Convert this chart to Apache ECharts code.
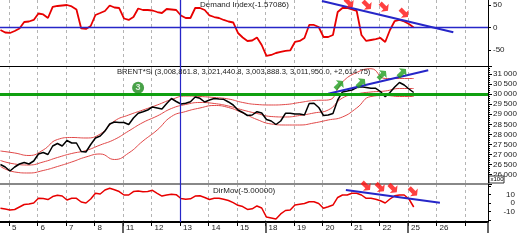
<!DOCTYPE html>
<html><head><meta charset="utf-8">
<script src="https://cdn.jsdelivr.net/npm/echarts@6/dist/echarts.min.js"></script>
<style>html,body{margin:0;padding:0;background:#fff}#c{width:520px;height:243px}</style>
</head><body><div id="c"></div>
<script>
const DATES = ['5','6','7','8','11','12','13','14','15','18','19','20','21','22','25','26'];
const T0 = -0.3;          // first intraday sample (trading-day index)
const STEP = 1/6;         // intraday sample step
const BAND_STEP = 1/2;    // envelope sample step
const demandIndex = [-5.6,-11.1,-12.2,-7.8,-2.2,12.2,13.3,16.7,31.1,28.9,
 21.1,45.6,47.8,48.9,50,46.7,40,-2.2,-3.3,3.3,
 27.8,32.2,36.7,48.9,44.4,43.3,20,16.7,23.3,42.2,
 38.9,38.9,37.8,34.4,32.2,41.1,40,38.9,26.7,21.1,
 21.1,43.3,43.3,38.9,26.7,23.3,21.1,16.7,13.3,11.1,
 -12.2,-22.2,-30,-28.9,-22.2,-38.9,-63.3,-61.1,-56.7,-54.4,
 -52.2,-51.1,-32.2,-30,-23.3,5.6,5.6,1.1,-21.1,-21.1,
 -16.7,34.4,43.3,43.3,40,36.7,-16.7,-30,-27.8,-25.6,
 -23.3,-32.2,-5.6,14.4,16.7,13.3,7.8,0];
const price = [26498,26374,26174,26374,26523,26598,26523,26672,27021,27096,
 26996,27419,27544,27419,27693,27569,27569,27145,27121,27494,
 27818,27917,28166,28515,28615,28590,28590,28490,28814,29048,
 29127,29212,29362,29312,29262,29536,29785,29635,29511,29546,
 29625,29860,29795,29611,29710,29785,29760,29745,29611,29461,
 29212,29088,28938,28963,29127,29063,28739,28664,28490,28664,
 29048,29048,29013,29013,28963,29536,29546,29337,28938,28963,
 29038,29710,30109,30158,30208,30333,30372,30333,30293,30293,
 30133,29874,30084,30358,30582,30457,30258,30084];
const bandUpper = [27170,27071,26946,27220,27743,27843,27818,28017,28664,28963,29212,29461,29735,29909,29884,29835,29760,29586,29486,29461,29486,29586,29685,29710,30607,31080,31269,30781,30781,30781];
const bandMid = [26697,26523,26473,26623,26847,27046,27195,27469,27743,28166,28590,28913,29287,29486,29586,29536,29411,29212,29038,28888,28864,28938,29063,29212,29810,30009,30109,30158,30283,30283];
const bandLower = [26398,26125,26075,26199,26398,26623,26872,27021,26747,27071,27668,28216,28888,29137,29312,29436,29337,29063,28739,28515,28465,28465,28565,28714,28864,29312,29884,29934,29884,29884];
const dirMov = [-6.2,-7.1,-8.2,-7.6,-4.7,-1.8,-1.2,0,5.5,5.3,
 4.1,7.6,9.1,8.2,3.5,5.5,5.5,1.2,0,4.7,
 11.4,10.6,15.3,17.3,15.6,13.5,9.4,9.4,13.5,14.1,
 13.3,13.5,14.9,11.4,8.2,9.4,10.4,9.8,5.3,4.5,
 4.9,8.2,8.5,6.5,4.1,5.5,5.5,4.5,2.9,0.4,
 -2.7,-4.2,-7.6,-6.8,-3.5,-5.9,-16.5,-17.6,-18.8,-12.9,
 -8.8,-8.2,-2.4,-1.5,-0.6,1.5,1.5,-0.6,-6.2,-4.4,
 -2.4,6.5,9.4,9.4,11.4,11.4,9.4,5.5,5.5,4.5,
 2.6,0,4.7,8.5,9.4,9.4,4.7,-4.7];
const diTrend = [[10.98,58.9],[15.59,-10.7]];
const priceTrend = [[11.2,30024],[14.71,31189]];
const dmTrend = [[11.82,15.3],[15.12,0.4]];
const diArrows = [[11.93,54.4],[12.56,50],[13.16,45.6],[13.86,32.2]];
const priceArrows = [[11.58,30457],[12.35,30557],[13.09,30955],[13.79,31055]];
const dmArrows = [[12.53,20],[13.02,18.5],[13.47,17.3],[14.18,13.3]];
const signalMark = [[4.53,30323]];
const LEVEL = 30000;
const DI_ZERO = 0;
const CURSOR_DAY = 6;
const X_MIN = -1, X_MAX = 16.807;
const TITLE_DI = 'Demand Index(-1.57086)';
const TITLE_PRICE = 'BRENT*Si (3,008,861.8, 3,021,440.8, 3,003,888.3, 3,011,950.0, +2,614.75)';
const TITLE_DM = 'DirMov(-5.00000)';

const FONT = 'Liberation Sans, Arial, sans-serif';
const pairs = (arr, t0, step) => arr.map((v, i) => [t0 + i * step, v]);
const ARROW = 'path://M0,3 L6,3 L6,0 L10,5 L6,10 L6,7 L0,7 Z';
const BLUE = '#2626c8';

const xBase = (gi, bottom) => ({
  type: 'value', gridIndex: gi, min: X_MIN, max: X_MAX, interval: 1,
  axisLine: {show: true, onZero: false,
    lineStyle: bottom ? {color: '#000', width: 2} : (gi === 0 ? {color: '#000', width: 1} : {color: '#888', width: 2})},
  axisTick: {show: bottom, length: 4, lineStyle: {color: '#000'}},
  axisLabel: {show: bottom, fontSize: 8, fontFamily: FONT, color: '#222', align: 'left', margin: 2, padding: [0,0,0,3],
    showMaxLabel: false, formatter: v => (DATES[v] !== undefined ? DATES[v] : '')},
  splitLine: {show: true, lineStyle: {color: '#b4b4b4', type: [3, 3], width: 1}}
});
const weekAxis = {
  type: 'value', gridIndex: 2, min: X_MIN, max: X_MAX, interval: 5, position: 'bottom',
  axisLine: {show: false, onZero: false}, axisLabel: {show: false}, splitLine: {show: false},
  axisTick: {show: true, length: 11, lineStyle: {color: '#333', width: 1.5}}
};
const yLabel = {fontSize: 8, fontFamily: FONT, color: '#222', showMinLabel: false, showMaxLabel: false};

const cursor = () => ({symbol: 'none', silent: true, label: {show: false}, animation: false,
  lineStyle: {color: BLUE, width: 1.2, type: 'solid'}, data: [{xAxis: CURSOR_DAY}]});
const gridBase = {left: -19.5, width: 507.5, outerBoundsMode: 'none', containLabel: false};

const option = {
  animation: false,
  title: [
    {text: TITLE_DI, left: 200, top: 1, padding: 0, textStyle: {fontSize: 8, fontWeight: 'normal', color: '#222', fontFamily: FONT}},
    {text: TITLE_PRICE, left: 117, top: 68, padding: 0, textStyle: {fontSize: 7.6, fontWeight: 'normal', color: '#222', fontFamily: FONT}},
    {text: TITLE_DM, left: 213, top: 187, padding: 0, textStyle: {fontSize: 8, fontWeight: 'normal', color: '#222', fontFamily: FONT}}
  ],
  grid: [
    Object.assign({top: 0, height: 66}, gridBase),
    Object.assign({top: 66, height: 118}, gridBase),
    Object.assign({top: 184, height: 38}, gridBase)
  ],
  xAxis: [xBase(0, false), xBase(1, false), xBase(2, true), weekAxis],
  yAxis: [
    {type: 'value', gridIndex: 0, position: 'right', min: -85.6, max: 61.1, minInterval: 50, maxInterval: 50,
     axisLine: {show: true, onZero: false, lineStyle: {color: '#000'}}, axisTick: {show: true, length: 3, lineStyle: {color: '#000'}},
     axisLabel: Object.assign({}, yLabel, {margin: 5}), splitLine: {show: false}},
    {type: 'value', gridIndex: 1, position: 'right', min: 25527, max: 31403, minInterval: 500, maxInterval: 500,
     axisLine: {show: true, onZero: false, lineStyle: {color: '#000'}}, axisTick: {show: true, length: 4, lineStyle: {color: '#000'}},
     minorTick: {show: true, splitNumber: 5, length: 2, lineStyle: {color: '#000'}},
     axisLabel: Object.assign({}, yLabel, {margin: 5, formatter: v => String(Math.floor(v/1000)) + '\u2009' + String(v % 1000).padStart(3, '0')}),
     splitLine: {show: false}},
    {type: 'value', gridIndex: 2, position: 'right', min: -22.35, max: 22.35, minInterval: 10, maxInterval: 10,
     axisLine: {show: true, onZero: false, lineStyle: {color: '#000'}}, axisTick: {show: true, length: 3, lineStyle: {color: '#000'}},
     axisLabel: Object.assign({}, yLabel, {margin: 27, align: 'right', formatter: v => (Math.abs(v) < 15 ? String(v) : '')}),
     splitLine: {show: false}}
  ],
  graphic: [
    {type: 'rect', shape: {x: 489, y: 176, width: 15, height: 7}, style: {fill: '#fff', stroke: '#000', lineWidth: 0.8}, z: 100},
    {type: 'text', x: 490.5, y: 176.5, style: {text: 'x100', font: '6px ' + FONT, fill: '#000'}, z: 101}
  ],
  series: [
    {type: 'line', xAxisIndex: 0, yAxisIndex: 0, data: pairs(demandIndex, T0, STEP), showSymbol: false,
     lineStyle: {color: '#e80000', width: 1.8}, z: 3,
     markLine: {symbol: 'none', silent: true, label: {show: false}, lineStyle: {color: BLUE, width: 1.3, type: 'solid'},
       data: [{xAxis: CURSOR_DAY}, [{coord: [X_MIN, DI_ZERO]}, {coord: [X_MAX, DI_ZERO]}]]}},
    {type: 'line', xAxisIndex: 0, yAxisIndex: 0, data: diTrend, showSymbol: false, lineStyle: {color: BLUE, width: 2}, z: 4},
    {type: 'scatter', xAxisIndex: 0, yAxisIndex: 0, data: diArrows, symbol: ARROW, symbolSize: 11, symbolRotate: -45,
     itemStyle: {color: '#ff1010'}, z: 5},

    {type: 'line', xAxisIndex: 1, yAxisIndex: 1, data: pairs(bandUpper, T0, BAND_STEP), showSymbol: false, smooth: true,
     lineStyle: {color: '#e04848', width: 1}, z: 2,
     markLine: {symbol: 'none', silent: true, label: {show: false}, lineStyle: {color: '#10a010', width: 3, type: 'solid'},
       data: [{yAxis: LEVEL}]}},
    {type: 'line', xAxisIndex: 1, yAxisIndex: 1, data: pairs(bandMid, T0, BAND_STEP), showSymbol: false, smooth: true,
     lineStyle: {color: '#e04848', width: 1}, z: 2},
    {type: 'line', xAxisIndex: 1, yAxisIndex: 1, data: pairs(bandLower, T0, BAND_STEP), showSymbol: false, smooth: true,
     lineStyle: {color: '#e04848', width: 1}, z: 2},
    {type: 'line', xAxisIndex: 1, yAxisIndex: 1, data: pairs(price, T0, STEP), showSymbol: false,
     lineStyle: {color: '#000', width: 1.5}, z: 3, markLine: cursor()},
    {type: 'line', xAxisIndex: 1, yAxisIndex: 1, data: priceTrend, showSymbol: false, lineStyle: {color: BLUE, width: 2}, z: 4},
    {type: 'scatter', xAxisIndex: 1, yAxisIndex: 1, data: priceArrows, symbol: ARROW, symbolSize: 11, symbolRotate: 45,
     itemStyle: {color: '#1f9e1f'}, z: 5},
    {type: 'scatter', xAxisIndex: 1, yAxisIndex: 1, data: signalMark, symbol: 'circle', symbolSize: 12,
     itemStyle: {color: '#1a8a1a'}, z: 5,
     label: {show: true, position: 'inside', formatter: '3', color: '#fff', fontWeight: 'bold', fontSize: 9, fontFamily: FONT}},

    {type: 'line', xAxisIndex: 2, yAxisIndex: 2, data: pairs(dirMov, T0, STEP), showSymbol: false,
     lineStyle: {color: '#e80000', width: 1.5}, z: 3, markLine: cursor()},
    {type: 'line', xAxisIndex: 2, yAxisIndex: 2, data: dmTrend, showSymbol: false, lineStyle: {color: BLUE, width: 2}, z: 4},
    {type: 'scatter', xAxisIndex: 2, yAxisIndex: 2, data: dmArrows, symbol: ARROW, symbolSize: 11, symbolRotate: -45,
     itemStyle: {color: '#ff1010'}, z: 5}
  ]
};
const chart = echarts.init(document.getElementById('c'), null, {renderer: 'canvas'});
chart.setOption(option);
</script>
</body></html>
